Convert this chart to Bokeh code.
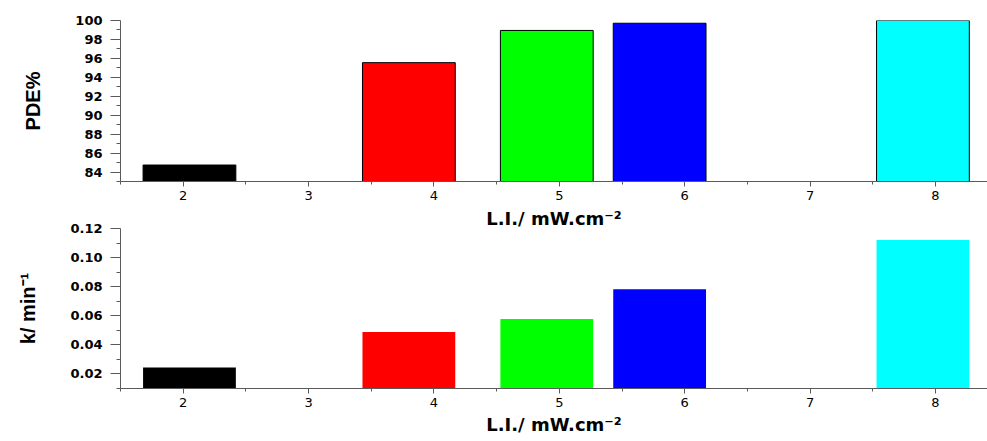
from bokeh.plotting import figure
from bokeh.layouts import column
from bokeh.models import FixedTicker, Range1d, ColumnDataSource, NumeralTickFormatter
from bokeh.embed import file_html
from bokeh.resources import INLINE

# ---- data ----
light_intensity = [2, 4, 5, 6, 8]
bar_pos = [2.05, 3.80, 4.90, 5.80, 7.90]
bar_colors = ["#000000", "#FF0000", "#00FF00", "#0000FF", "#00FFFF"]
pde = [84.74, 95.55, 98.95, 99.71, 100.0]
k_rate = [0.0245, 0.0489, 0.0578, 0.0782, 0.1121]

x_ticks = [2, 3, 4, 5, 6, 7, 8]
x_minor = [1.5, 2.5, 3.5, 4.5, 5.5, 6.5, 7.5]
pde_ticks = [84, 86, 88, 90, 92, 94, 96, 98, 100]
pde_minor = [83, 85, 87, 89, 91, 93, 95, 97, 99]
k_ticks = [0.02, 0.04, 0.06, 0.08, 0.10, 0.12]
k_minor = [0.01, 0.03, 0.05, 0.07, 0.09, 0.11]

x_label = "L.I./ mW.cm\u207b\u00b2"
pde_label = "PDE%"
k_label = "k/ min\u207b\u00b9"

AX = "#5a5a5a"


def style_axes(p):
    for ax in (p.xaxis[0], p.yaxis[0]):
        ax.axis_line_color = AX
        ax.major_tick_line_color = AX
        ax.minor_tick_line_color = AX
        ax.major_tick_in = 0
        ax.minor_tick_in = 0
    xa = p.xaxis[0]
    xa.major_tick_out = 5
    xa.minor_tick_out = 3
    xa.major_label_standoff = 4
    xa.major_label_text_font = "DejaVu Sans"
    xa.major_label_text_font_size = "13px"
    xa.major_label_text_color = "#000000"
    ya = p.yaxis[0]
    ya.major_tick_out = 10
    ya.minor_tick_out = 4
    ya.major_label_standoff = 8
    ya.major_label_text_font = "DejaVu Sans"
    ya.major_label_text_font_style = "bold"
    ya.major_label_text_font_size = "13px"
    ya.major_label_text_color = "#000000"
    ya.axis_label_text_font = "Liberation Sans"
    ya.axis_label_text_font_style = "bold"
    ya.axis_label_text_font_size = "20px"
    ya.axis_label_text_color = "#000000"
    ya.axis_label_standoff = 28
    p.grid.visible = False
    p.outline_line_color = None


# ---- top panel: PDE% ----
p1 = figure(width=987, height=205, x_range=Range1d(1.5, 8.415), y_range=Range1d(83, 100),
            output_backend="svg", toolbar_location=None,
            min_border_left=120, min_border_right=0, min_border_top=20, min_border_bottom=24)
src1 = ColumnDataSource(dict(x=bar_pos, top=pde, color=bar_colors, li=light_intensity))
p1.vbar(x="x", width=0.74, bottom=83, top="top", source=src1,
        fill_color="color", line_color="#000000", line_width=1)
p1.xaxis.ticker = FixedTicker(ticks=x_ticks, minor_ticks=x_minor)
p1.yaxis.ticker = FixedTicker(ticks=pde_ticks, minor_ticks=pde_minor)
p1.yaxis.axis_label = pde_label
style_axes(p1)

# ---- bottom panel: k ----
p2 = figure(width=987, height=236, x_range=Range1d(1.5, 8.415), y_range=Range1d(0.01, 0.12),
            output_backend="svg", toolbar_location=None,
            min_border_left=120, min_border_right=0, min_border_top=22, min_border_bottom=53)
src2 = ColumnDataSource(dict(x=bar_pos, top=k_rate, color=bar_colors, li=light_intensity))
p2.vbar(x="x", width=0.74, bottom=0.01, top="top", source=src2,
        fill_color="color", line_color=None)
p2.xaxis.ticker = FixedTicker(ticks=x_ticks, minor_ticks=x_minor)
p2.yaxis.ticker = FixedTicker(ticks=k_ticks, minor_ticks=k_minor)
p2.yaxis.formatter = NumeralTickFormatter(format="0.00")
p2.yaxis.axis_label = k_label
style_axes(p2)
p2.xaxis.axis_label = x_label
p2.xaxis.axis_label_standoff = 4
p2.xaxis.axis_label_text_font = "DejaVu Sans"
p2.xaxis.axis_label_text_font_style = "bold"
p2.xaxis.axis_label_text_font_size = "18px"
p2.xaxis.axis_label_text_color = "#000000"

# x-axis title of the top panel, shown in the gap between the two panels
p2.title.text = x_label
p2.title.align = "center"
p2.title.offset = 10
p2.title.standoff = 0
p2.title.text_font = "DejaVu Sans"
p2.title.text_font_style = "bold"
p2.title.text_font_size = "18px"
p2.title.text_color = "#000000"

layout = column(p1, p2, spacing=0)
open("out.html", "w").write(file_html(layout, INLINE))
